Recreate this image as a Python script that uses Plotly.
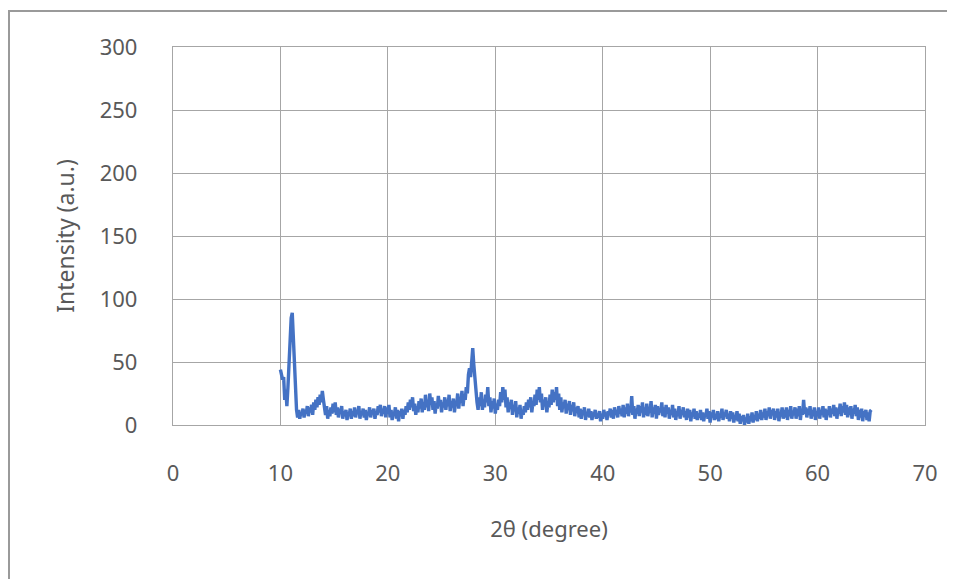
import numpy as np
import plotly.graph_objects as go

# ---- data ----
theta_start = 10.0
theta_step = 0.1
intensity = [
    # 10.0 - 10.9
    44, 40, 36, 38, 20, 28, 15, 30, 50, 72,
    # 11
    85, 89, 70, 45, 25, 12, 6, 12, 5, 10,
    # 12
    8, 13, 6, 12, 9, 15, 7, 14, 10, 16,
    # 13
    8, 18, 12, 20, 14, 22, 16, 24, 18, 27,
    # 14
    20, 12, 8, 15, 5, 12, 7, 14, 9, 17,
    # 15
    10, 18, 8, 14, 6, 13, 9, 15, 5, 11,
    # 16
    7, 12, 4, 10, 8, 13, 5, 11, 7, 14,
    # 17
    6, 12, 9, 15, 5, 11, 8, 13, 6, 12,
    # 18
    4, 10, 8, 14, 6, 12, 9, 13, 5, 11,
    # 19
    8, 15, 10, 16, 7, 13, 9, 15, 6, 14,
    # 20
    9, 16, 6, 12, 4, 10, 8, 14, 5, 12,
    # 21
    3, 11, 7, 13, 5, 12, 8, 15, 10, 18,
    # 22
    12, 20, 14, 22, 11, 17, 8, 15, 10, 19,
    # 23
    13, 21, 10, 18, 12, 24, 14, 20, 11, 25,
    # 24
    16, 22, 12, 19, 9, 17, 13, 23, 15, 20,
    # 25
    10, 18, 14, 22, 12, 20, 15, 24, 11, 19,
    # 26
    14, 21, 10, 18, 16, 25, 13, 22, 18, 27,
    # 27
    15, 24, 20, 30, 25, 40, 45, 38, 50, 61,
    # 28
    48, 35, 25, 18, 12, 22, 15, 26, 12, 20,
    # 29
    14, 24, 18, 30, 15, 22, 10, 19, 13, 21,
    # 30
    9, 17, 12, 20, 15, 26, 18, 30, 20, 28,
    # 31
    14, 22, 10, 18, 13, 20, 8, 16, 11, 19,
    # 32
    6, 14, 9, 16, 5, 12, 8, 15, 10, 18,
    # 33
    12, 20, 14, 22, 10, 18, 15, 24, 16, 28,
    # 34
    20, 30, 18, 25, 12, 20, 15, 22, 10, 18,
    # 35
    14, 24, 16, 28, 18, 26, 20, 30, 15, 25,
    # 36
    12, 22, 10, 18, 14, 20, 9, 17, 12, 19,
    # 37
    8, 16, 11, 18, 7, 14, 10, 15, 6, 13,
    # 38
    5, 12, 8, 14, 4, 10, 7, 13, 6, 11,
    # 39
    4, 10, 7, 12, 5, 9, 6, 11, 3, 9,
    # 40
    5, 12, 7, 10, 4, 11, 8, 13, 6, 12,
    # 41
    5, 14, 8, 12, 6, 15, 9, 13, 7, 16,
    # 42
    6, 14, 9, 17, 7, 13, 10, 23, 8, 15,
    # 43
    5, 13, 9, 16, 7, 15, 10, 18, 6, 14,
    # 44
    8, 17, 7, 13, 10, 19, 6, 14, 9, 16,
    # 45
    5, 15, 8, 13, 10, 18, 7, 14, 6, 16,
    # 46
    9, 14, 5, 12, 8, 16, 6, 13, 4, 11,
    # 47
    7, 15, 5, 12, 8, 14, 6, 11, 4, 13,
    # 48
    6, 12, 3, 10, 7, 13, 5, 11, 4, 9,
    # 49
    6, 12, 4, 10, 3, 9, 7, 13, 5, 11,
    # 50
    2, 10, 6, 12, 4, 8, 5, 11, 3, 9,
    # 51
    6, 13, 4, 10, 7, 12, 5, 9, 3, 11,
    # 52
    5, 10, 2, 8, 4, 11, 3, 9, 1, 7,
    # 53
    3, 8, 0, 6, 2, 9, 1, 7, 3, 10,
    # 54
    2, 8, 4, 11, 3, 9, 5, 12, 4, 10,
    # 55
    6, 13, 4, 11, 7, 14, 5, 12, 8, 13,
    # 56
    4, 11, 6, 13, 3, 10, 7, 14, 5, 12,
    # 57
    6, 14, 4, 12, 7, 15, 5, 11, 8, 14,
    # 58
    5, 13, 7, 15, 4, 12, 8, 20, 9, 14,
    # 59
    6, 13, 8, 15, 5, 12, 7, 14, 4, 11,
    # 60
    7, 14, 5, 12, 8, 15, 6, 13, 4, 12,
    # 61
    8, 15, 6, 13, 9, 16, 7, 14, 5, 13,
    # 62
    9, 17, 7, 15, 10, 18, 8, 16, 6, 14,
    # 63
    8, 15, 5, 13, 9, 16, 7, 14, 4, 12,
    # 64
    6, 13, 3, 11, 7, 12, 4, 10, 3, 11,
    # 65.0
    12,
]
two_theta = [round(theta_start + i * theta_step, 1) for i in range(len(intensity))]

x_ticks = [0, 10, 20, 30, 40, 50, 60, 70]
y_ticks = [0, 50, 100, 150, 200, 250, 300]

# ---- figure ----
W, H = 955, 579
OFF = 8  # page body margin
L, R, T, B = 173 - OFF, 925 - OFF, 47 - OFF, 425 - OFF  # plot area in pixels (figure coords)


def px_x(px):
    return (px - OFF - L) / (R - L)


def px_y(py):
    return (B - (py - OFF)) / (B - T)


fig = go.Figure()
fig.add_trace(go.Scatter(
    x=two_theta, y=intensity, mode="lines",
    line=dict(color="#4472C4", width=3.4),
    showlegend=False, hoverinfo="skip",
))

font_family = "Noto Sans"
txt_color = "#595959"
grid_color = "#a6a6a6"

shapes = []
# outer frame (cut off at right/bottom)
shapes.append(dict(type="rect", xref="paper", yref="paper",
                   x0=px_x(9), x1=px_x(990), y0=px_y(610), y1=px_y(11),
                   line=dict(color="#9a9a9a", width=2), fillcolor="rgba(0,0,0,0)",
                   layer="below"))

fig.update_layout(
    width=W, height=H,
    margin=dict(l=L, r=W - R, t=T, b=H - B, pad=0),
    paper_bgcolor="white", plot_bgcolor="white",
    font=dict(family=font_family, size=22, color=txt_color),
    shapes=shapes,
    xaxis=dict(
        range=[0, 70], tickvals=x_ticks, ticktext=[str(v) for v in x_ticks],
        showgrid=True, gridcolor=grid_color, gridwidth=1.3,
        showline=True, linecolor=grid_color, linewidth=1.3, mirror=True,
        zeroline=False, ticks="", ticklabelstandoff=28,
        tickfont=dict(size=22, color=txt_color),
        title=dict(text="2θ (degree)", font=dict(size=22, color=txt_color), standoff=36),
    ),
    yaxis=dict(
        range=[0, 300], tickvals=y_ticks, ticktext=[str(v) for v in y_ticks],
        showgrid=True, gridcolor=grid_color, gridwidth=1.3,
        showline=True, linecolor=grid_color, linewidth=1.3, mirror=True,
        zeroline=False, ticks="", ticklabelstandoff=30,
        tickfont=dict(size=22, color=txt_color),
        title=dict(text="Intensity (a.u.)", font=dict(size=23, color=txt_color), standoff=18),
    ),
)

fig.write_html("out.html")
